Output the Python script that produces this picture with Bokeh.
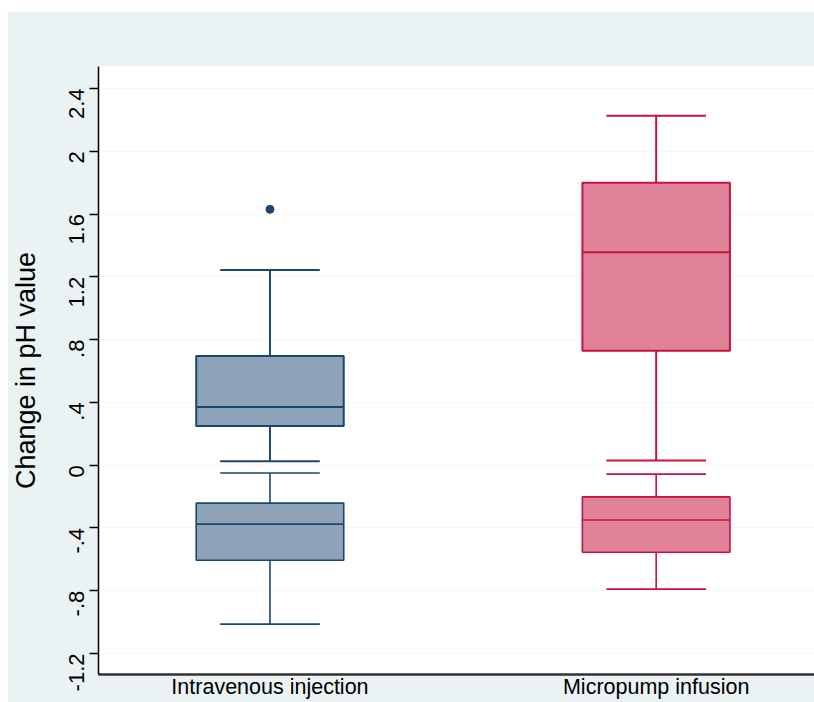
import math
from bokeh.plotting import figure
from bokeh.models import FixedTicker, Spacer
from bokeh.layouts import column, row
from bokeh.embed import file_html
from bokeh.resources import INLINE

# ---- data ----
categories = ["Intravenous injection", "Micropump infusion"]
positions = [1, 2]
# stats: lower whisker, q1, median, q3, upper whisker
iv_pos = [0.025, 0.25, 0.37, 0.695, 1.243]
mp_pos = [0.03, 0.729, 1.356, 1.80, 2.226]
iv_neg = [-1.013, -0.606, -0.376, -0.242, -0.05]
mp_neg = [-0.79, -0.555, -0.35, -0.202, -0.057]
iv_outliers = [1.63]
y_ticks = [-1.2, -0.8, -0.4, 0, 0.4, 0.8, 1.2, 1.6, 2.0, 2.4]
y_tick_labels = ["-1.2", "-.8", "-.4", "0", ".4", ".8", "1.2", "1.6", "2", "2.4"]

BG = "#EAF2F3"
navy = "#1A476F"
navy_fill = "#8FA3B8"
red = "#C4143C"
red_fill = "#E0839A"
FONT = "Liberation Sans"

p = figure(width=807, height=691, output_backend="svg", toolbar_location=None,
           x_range=(0.556, 2.41), y_range=(-1.334, 2.54),
           background_fill_color="white", border_fill_color=BG,
           min_border_left=89, min_border_right=0, min_border_top=55, min_border_bottom=28)
p.outline_line_color = None

box_w = 0.382
cap_w = 0.258

def draw_box(x, s, line, fill, lw):
    lo, q1, med, q3, hi = s
    p.segment(x0=[x, x], y0=[q3, q1], x1=[x, x], y1=[hi, lo], line_color=line, line_width=lw)
    p.segment(x0=[x - cap_w / 2, x - cap_w / 2], y0=[hi, lo],
              x1=[x + cap_w / 2, x + cap_w / 2], y1=[hi, lo], line_color=line, line_width=lw)
    p.vbar(x=[x], width=box_w, bottom=[q1], top=[q3], fill_color=fill,
           line_color=line, line_width=lw)
    p.segment(x0=[x - box_w / 2], y0=[med], x1=[x + box_w / 2], y1=[med],
              line_color=line, line_width=lw)

draw_box(positions[0], iv_pos, navy, navy_fill, 2)
draw_box(positions[0], iv_neg, navy, navy_fill, 1.6)
draw_box(positions[1], mp_pos, red, red_fill, 2)
draw_box(positions[1], mp_neg, red, red_fill, 1.6)
p.scatter(x=[positions[0]] * len(iv_outliers), y=iv_outliers, size=8,
          fill_color=navy, line_color=navy)

# grid (very faint, Stata style)
p.xgrid.grid_line_color = None
p.ygrid.ticker = FixedTicker(ticks=y_ticks)
p.ygrid.grid_line_color = "#F5F8F9"
p.ygrid.grid_line_width = 1

# y axis
p.yaxis.ticker = FixedTicker(ticks=y_ticks)
p.yaxis.major_label_overrides = {t: l for t, l in zip(y_ticks, y_tick_labels)}
p.yaxis.major_label_orientation = math.pi / 2
p.yaxis.major_label_text_font = FONT
p.yaxis.major_label_text_font_size = "22px"
p.yaxis.major_label_text_color = "black"
p.yaxis.major_label_standoff = 13
p.yaxis.major_tick_out = 9
p.yaxis.major_tick_in = 0
p.yaxis.major_tick_line_color = "black"
p.yaxis.major_tick_line_width = 1.5
p.yaxis.minor_tick_line_color = None
p.yaxis.axis_line_color = "black"
p.yaxis.axis_line_width = 1.5
p.yaxis.axis_label = "Change in pH value"
p.yaxis.axis_label_text_font = FONT
p.yaxis.axis_label_text_font_size = "27px"
p.yaxis.axis_label_text_font_style = "normal"
p.yaxis.axis_label_text_color = "black"
p.yaxis.axis_label_standoff = 18

# x axis
p.xaxis.ticker = FixedTicker(ticks=positions)
p.xaxis.major_label_overrides = {x: c for x, c in zip(positions, categories)}
p.xaxis.major_label_text_font = FONT
p.xaxis.major_label_text_font_size = "21.5px"
p.xaxis.major_label_text_color = "black"
p.xaxis.major_label_standoff = 0
p.xaxis.major_tick_out = 0
p.xaxis.major_tick_in = 0
p.xaxis.major_tick_line_color = None
p.xaxis.minor_tick_line_color = None
p.xaxis.axis_line_color = "#333333"
p.xaxis.axis_line_width = 2.5

layout = column(Spacer(width=814, height=11),
                row(Spacer(width=7, height=691), p, spacing=0), spacing=0)
open("out.html", "w").write(file_html(layout, INLINE))
